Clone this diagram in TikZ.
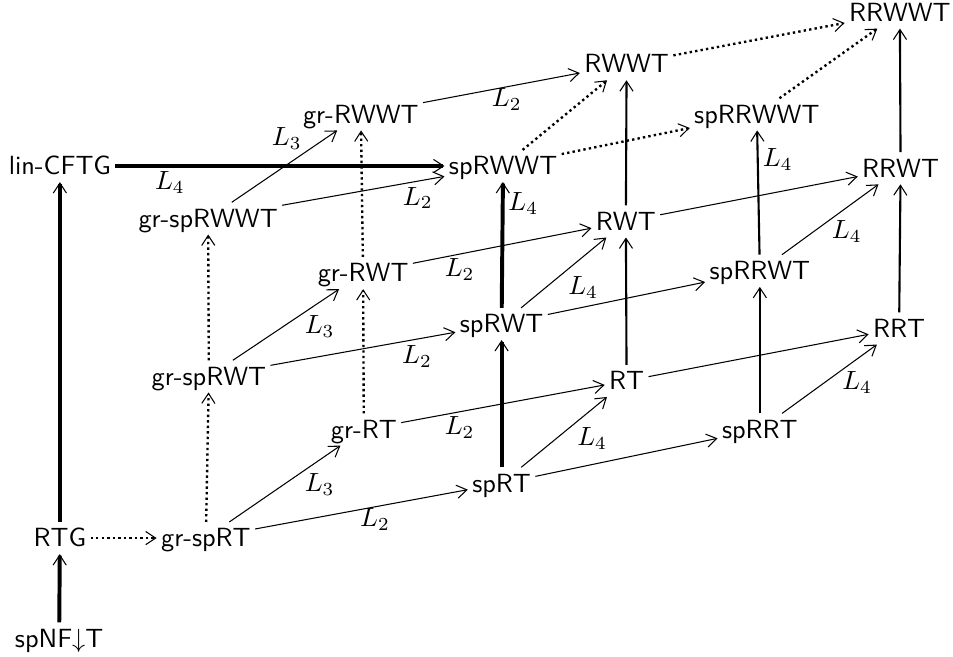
\documentclass[tikz,border=0pt]{standalone}
\usepackage{amsmath}
\usepackage{amssymb}
\usepackage{tikz}
\usetikzlibrary{arrows.meta}
\tikzset{>={Straight Barb[length=3.8pt, width=5pt, line width'=0.4pt]}}
\tikzstyle{cls} = [draw=none, inner sep = 1.5pt, font=\sffamily, text height=1.8ex, text depth=0.25ex, anchor=base]
\tikzstyle{lbl} = [draw=none, inner sep = 0]
\tikzstyle{thinarr} = [->, line width=0.4pt]
\tikzstyle{medarr} = [->, line width=0.8pt]
\tikzstyle{bigarr} = [->, line width=1.5pt]
\tikzstyle{dotarr} = [->, line width=0.9pt, dash pattern=on 0.9pt off 1.2pt]

\begin{document}
\begin{tikzpicture}
\useasboundingbox (0, 0) rectangle (12.73, 8.775);
% left column
\node [cls] (spnf) at (0.79, 0.13) {spNF$\downarrow$T};
\node [cls] (rtg) at (0.80, 1.47) {RTG};
\node [cls] (lincftg) at (0.80, 6.44) {lin-CFTG};
% gr-sp column
\node [cls] (grsprt) at (2.75, 1.47) {gr-spRT};
\node [cls] (grsprwt) at (2.79, 3.63) {gr-spRWT};
\node [cls] (grsprwwt) at (2.78, 5.74) {gr-spRWWT};
% gr column
\node [cls] (grrt) at (4.86, 2.92) {gr-RT};
\node [cls] (grrwt) at (4.85, 5.01) {gr-RWT};
\node [cls] (grrwwt) at (4.82, 7.13) {gr-RWWT};
% sp column
\node [cls] (sprt) at (6.70, 2.20) {spRT};
\node [cls] (sprwt) at (6.70, 4.33) {spRWT};
\node [cls] (sprwwt) at (6.72, 6.44) {spRWWT};
% plain column
\node [cls] (rt) at (8.37, 3.57) {RT};
\node [cls] (rwt) at (8.36, 5.70) {RWT};
\node [cls] (rwwt) at (8.37, 7.80) {RWWT};
% spRR column
\node [cls] (sprrt) at (10.15, 2.92) {spRRT};
\node [cls] (sprrwt) at (10.15, 5.04) {spRRWT};
\node [cls] (sprrwwt) at (10.11, 7.13) {spRRWWT};
% RR column
\node [cls] (rrt) at (12.01, 4.27) {RRT};
\node [cls] (rrwt) at (12.03, 6.41) {RRWT};
\node [cls] (rrwwt) at (12.02, 8.49) {RRWWT};

% labels
\node [lbl] (l4a) at (2.27, 6.34) {$L_4$};
\node [lbl] (l3a) at (4.27, 2.30) {$L_3$};
\node [lbl] (l3b) at (4.27, 4.41) {$L_3$};
\node [lbl] (l3c) at (3.83, 6.93) {$L_3$};
\node [lbl] (l2a) at (5.01, 1.83) {$L_2$};
\node [lbl] (l2b) at (6.14, 3.06) {$L_2$};
\node [lbl] (l2c) at (5.57, 4.01) {$L_2$};
\node [lbl] (l2d) at (6.14, 5.17) {$L_2$};
\node [lbl] (l2e) at (5.58, 6.13) {$L_2$};
\node [lbl] (l2f) at (6.77, 7.44) {$L_2$};
\node [lbl] (l4b) at (7.91, 2.92) {$L_4$};
\node [lbl] (l4c) at (7.79, 4.94) {$L_4$};
\node [lbl] (l4d) at (6.99, 6.06) {$L_4$};
\node [lbl] (l4e) at (11.45, 3.66) {$L_4$};
\node [lbl] (l4f) at (11.31, 5.68) {$L_4$};
\node [lbl] (l4g) at (10.39, 6.64) {$L_4$};

% main chain
\draw [bigarr] (spnf) to (rtg);
\draw [bigarr] (rtg) to (lincftg);
\draw [bigarr] (lincftg) to (sprwwt);
\draw [dotarr] (rtg) to (grsprt);
% grammar side
\draw [dotarr] (grsprt) to (grsprwt);
\draw [dotarr] (grsprwt) to (grsprwwt);
\draw [dotarr] (grrt) to (grrwt);
\draw [dotarr] (grrwt) to (grrwwt);
\draw [thinarr] (grsprt) to (grrt);
\draw [thinarr] (grsprwt) to (grrwt);
\draw [thinarr] (grsprwwt) to (grrwwt);
\draw [thinarr] (grsprt) to (sprt);
\draw [thinarr] (grsprwt) to (sprwt);
\draw [thinarr] (grsprwwt) to (sprwwt);
\draw [thinarr] (grrt) to (rt);
\draw [thinarr] (grrwt) to (rwt);
\draw [thinarr] (grrwwt) to (rwwt);
% transducer side
\draw [bigarr] (sprt) to (sprwt);
\draw [bigarr] (sprwt) to (sprwwt);
\draw [thinarr] (sprt) to (rt);
\draw [thinarr] (sprwt) to (rwt);
\draw [dotarr] (sprwwt) to (rwwt);
\draw [thinarr] (sprt) to (sprrt);
\draw [thinarr] (sprwt) to (sprrwt);
\draw [dotarr] (sprwwt) to (sprrwwt);
\draw [medarr] (rt) to (rwt);
\draw [medarr] (rwt) to (rwwt);
\draw [medarr] (sprrt) to (sprrwt);
\draw [medarr] (sprrwt) to (sprrwwt);
\draw [medarr] (rrt) to (rrwt);
\draw [medarr] (rrwt) to (rrwwt);
\draw [thinarr] (rt) to (rrt);
\draw [thinarr] (rwt) to (rrwt);
\draw [dotarr] (rwwt) to (rrwwt);
\draw [thinarr] (sprrt) to (rrt);
\draw [thinarr] (sprrwt) to (rrwt);
\draw [dotarr] (sprrwwt) to (rrwwt);
\end{tikzpicture}
\end{document}
